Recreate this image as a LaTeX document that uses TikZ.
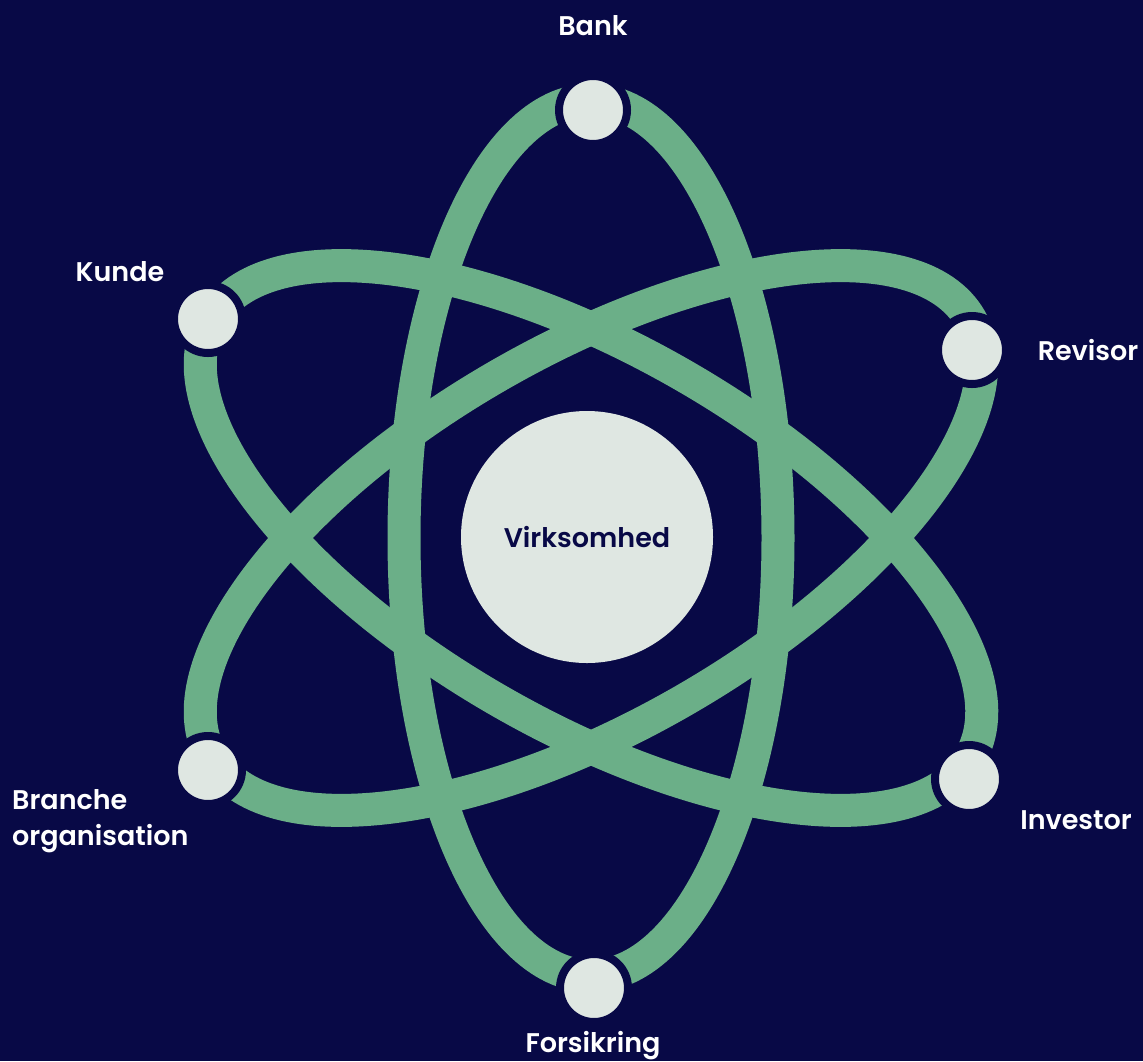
\documentclass[tikz,border=0pt]{standalone}
\usepackage{fontspec}
\setmainfont{Poppins}[BoldFont={Poppins SemiBold}]
\definecolor{navy}{HTML}{080946}
\definecolor{leaf}{HTML}{6BAF88}
\definecolor{pale}{HTML}{DFE7E2}
\tikzset{>=stealth,
  orbit/.style={draw=leaf, line width=33pt},
  planet/.style={circle, fill=pale, draw=navy, line width=8pt, minimum size=68pt, inner sep=0pt},
  lbl/.style={text=white, inner sep=0pt, font=\bfseries\fontsize{27}{36}\selectfont}}

\begin{document}
\begin{tikzpicture}[x=1pt,y=-1pt]
    \fill[navy] (0,0) rectangle (1143,1061);
    \useasboundingbox (0,0) rectangle (1143,1061);
    \coordinate (O) at (591,538);
    \draw[orbit] (O) ellipse [x radius=187, y radius=438];
    \draw[orbit, rotate around={60:(O)}] (O) ellipse [x radius=187, y radius=438];
    \draw[orbit, rotate around={-60:(O)}] (O) ellipse [x radius=187, y radius=438];
    \node[circle, fill=pale, minimum size=252pt, inner sep=0pt, text=navy,
          font=\bfseries\fontsize{27}{30}\selectfont] (firma) at (587,537) {Virksomhed};
    \node[planet] (bank) at (593,110) {};
    \node[planet] (kunde) at (208,319) {};
    \node[planet] (revisor) at (972,350) {};
    \node[planet] (branche) at (208,770) {};
    \node[planet] (investor) at (969,779) {};
    \node[planet] (forsikring) at (594,988) {};
    \node[lbl] (banktxt) at (593,26) {Bank};
    \node[lbl] (kundetxt) at (120,272) {Kunde};
    \node[lbl] (revisortxt) at (1088,350) {Revisor};
    \node[lbl, align=left, anchor=west] (branchetxt) at (12,821) {Branche\\organisation};
    \node[lbl] (investortxt) at (1076,820) {Investor};
    \node[lbl] (forsikringtxt) at (593,1046) {Forsikring};
\end{tikzpicture}
\end{document}
